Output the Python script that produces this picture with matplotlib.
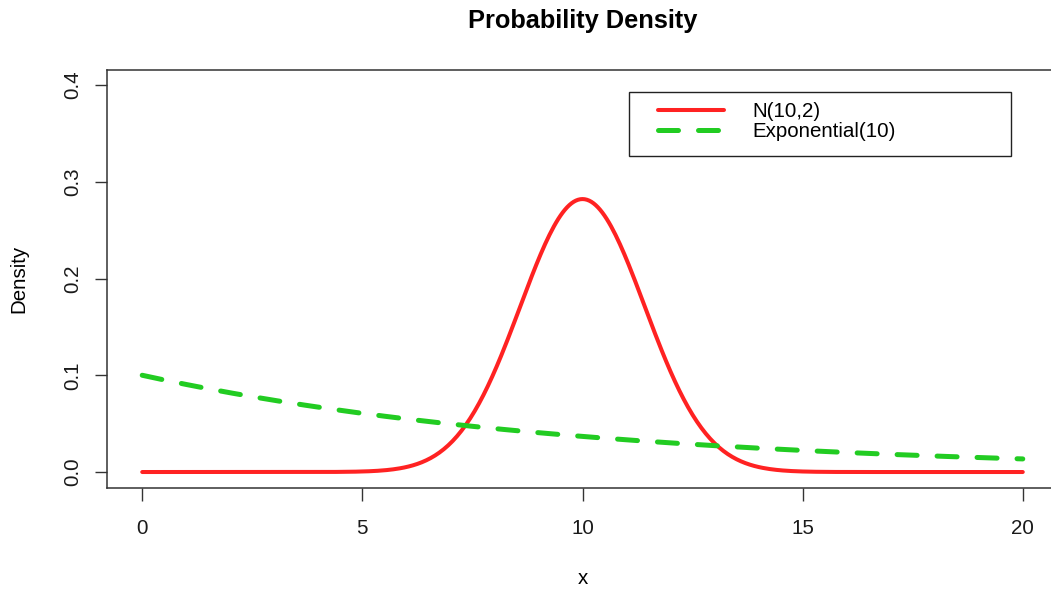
import numpy as np
import matplotlib.pyplot as plt
from matplotlib.patches import Rectangle

plt.rcParams['font.family'] = ['Liberation Sans', 'DejaVu Sans']

# distribution parameters, as named in the legend
norm_mean = 10
norm_var = 2
exp_mean = 10
labels = ["N(10,2)", "Exponential(10)"]

x_ticks = [0, 5, 10, 15, 20]
y_ticks = [0.0, 0.1, 0.2, 0.3, 0.4]

# evaluation grid over [0, 20]
x = np.linspace(0, 20, 401)
dens_norm = np.exp(-(x - norm_mean) ** 2 / (2 * norm_var)) / np.sqrt(2 * np.pi * norm_var)
dens_exp = np.exp(-x / exp_mean) / exp_mean

W, H = 1051, 590
fig = plt.figure(figsize=(W / 100, H / 100), dpi=100)
fig.set_facecolor('white')

# axes box in pixels: left 107, right 1058 (runs off the edge), top 69.5, bottom 487.5
ax = fig.add_axes([107 / W, (H - 487.5) / H, (1058 - 107) / W, (487.5 - 69.5) / H])

ax.plot(x, dens_norm, color='#ff2222', lw=2.9, solid_capstyle='round', label=labels[0], zorder=3)
ax.plot(x, dens_exp, color='#22cc22', lw=3.6, dashes=(4, 4), dash_capstyle='round',
        label=labels[1], zorder=3)

ax.set_xlim(-0.8, 20.8)
ax.set_ylim(-0.016, 0.416)
ax.set_xticks(x_ticks)
ax.set_xticklabels([str(v) for v in x_ticks])
ax.set_yticks(y_ticks)
ax.set_yticklabels(["%.1f" % v for v in y_ticks], rotation=90, va='center')

for s in ax.spines.values():
    s.set_color('#333333')
    s.set_linewidth(1.1)

ax.tick_params(axis='both', length=9, width=1.0, color='#333333', labelsize=14.8,
               labelcolor='#1a1a1a')
ax.tick_params(axis='x', pad=14)
ax.tick_params(axis='y', pad=9)

ax.set_xlabel('x', fontsize=14.8)
ax.xaxis.set_label_coords(0.5, -0.195)
ax.set_ylabel('Density', fontsize=14.8)
ax.yaxis.set_label_coords(-0.083, 0.5)

fig.text(583 / W, 1 - 21 / H, 'Probability Density', fontsize=18.3, fontweight='bold',
         ha='center', va='center')

# legend box drawn separately, entries placed inside it
fig.patches.append(Rectangle((629 / W, 1 - 156 / H), (1011 - 629) / W, 64 / H,
                             transform=fig.transFigure, fill=False, edgecolor='#222222',
                             lw=1.0, zorder=5))
leg = ax.legend(loc='upper left', bbox_to_anchor=(658 / W, 1 - 102 / H),
                bbox_transform=fig.transFigure, frameon=False, fontsize=14.8,
                borderpad=0, borderaxespad=0, handlelength=3.2, handletextpad=1.4,
                labelspacing=0.05)

fig.savefig('out.png', dpi=100, facecolor='white')
